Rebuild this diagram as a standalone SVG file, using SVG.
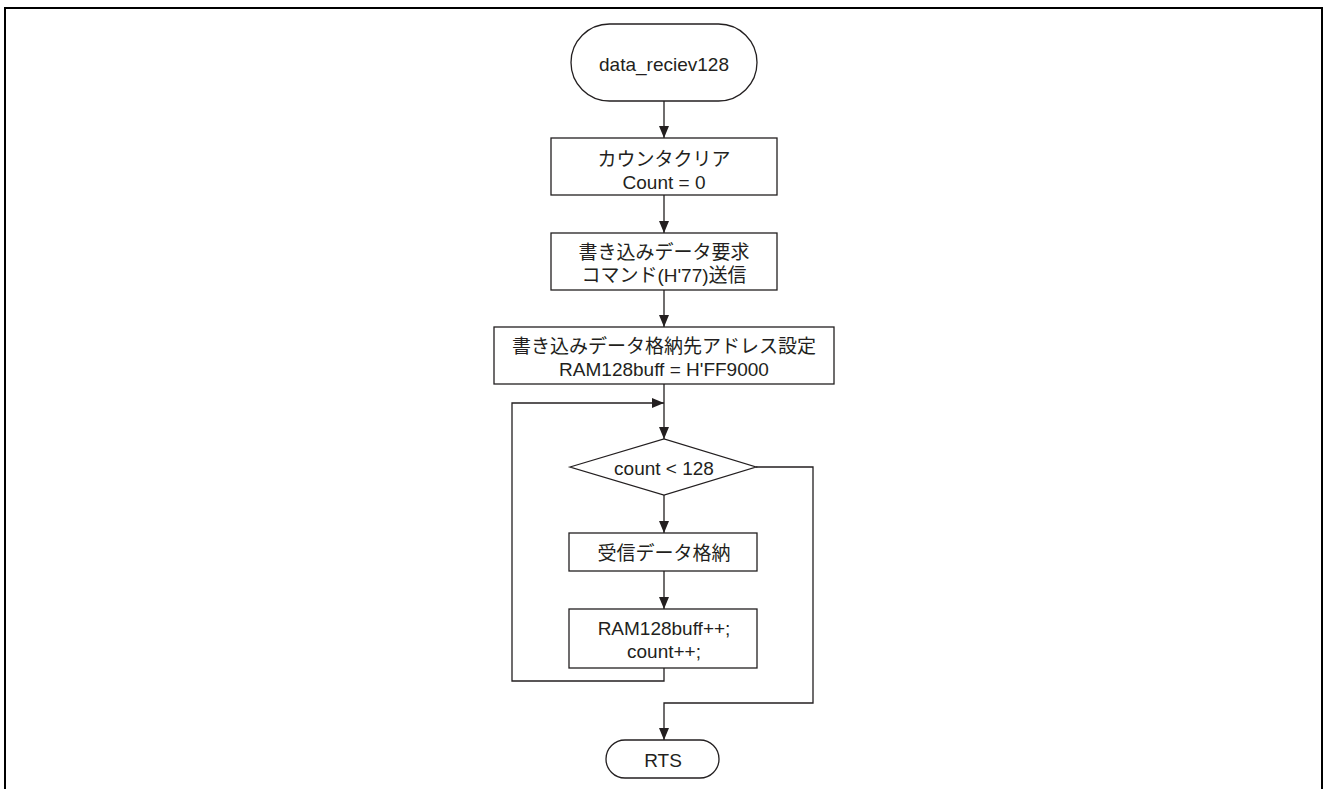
<svg xmlns="http://www.w3.org/2000/svg" width="1324" height="789" viewBox="0 0 1324 789">
<defs>
<marker id="arr" viewBox="0 0 12 10" refX="12" refY="5" markerWidth="12" markerHeight="10" markerUnits="userSpaceOnUse" orient="auto">
<path d="M0,0 L12,5 L0,10 Z" fill="#231f20"/>
</marker>
<style>
.s{fill:#fff;stroke:#231f20;stroke-width:1.3}
.c{fill:none;stroke:#231f20;stroke-width:1.3}
text{font-family:"Liberation Sans","Noto Sans CJK JP",sans-serif;font-size:19px;fill:#231f20;text-anchor:middle}
</style>
</defs>
<rect width="1324" height="789" fill="#fff"/>
<path d="M5,789 V8 H1322 V789" fill="none" stroke="#000" stroke-width="2"/>
<g id="connectors">
<path class="c" d="M664,101 V138" marker-end="url(#arr)"/>
<path class="c" d="M664,195 V233" marker-end="url(#arr)"/>
<path class="c" d="M664,290 V327" marker-end="url(#arr)"/>
<path class="c" d="M664,384 V439" marker-end="url(#arr)"/>
<path class="c" d="M664,495 V533" marker-end="url(#arr)"/>
<path class="c" d="M664,571 V609" marker-end="url(#arr)"/>
<path class="c" d="M664,668 V681 H512 V403 H664" marker-end="url(#arr)"/>
<path class="c" d="M756,467 H813 V703 H664 V740" marker-end="url(#arr)"/>
</g>
<g id="start">
<rect class="s" x="571" y="24" width="186" height="77" rx="38.5"/>
<text x="664" y="71">data_reciev128</text>
</g>
<g id="clear">
<rect class="s" x="551" y="138" width="226" height="57"/>
<text x="664" y="166">カウンタクリア</text>
<text x="664" y="189">Count = 0</text>
</g>
<g id="request">
<rect class="s" x="551" y="233" width="226" height="57"/>
<text x="664" y="259">書き込みデータ要求</text>
<text x="664" y="282">コマンド(H'77)送信</text>
</g>
<g id="address">
<rect class="s" x="494" y="327" width="340" height="57"/>
<text x="664" y="353">書き込みデータ格納先アドレス設定</text>
<text x="664" y="376">RAM128buff = H'FF9000</text>
</g>
<g id="decision">
<path class="s" d="M570,467 L664,439 L756,467 L664,495 Z"/>
<text x="664" y="475">count &lt; 128</text>
</g>
<g id="store">
<rect class="s" x="569" y="533" width="188" height="38"/>
<text x="664" y="560">受信データ格納</text>
</g>
<g id="increment">
<rect class="s" x="569" y="609" width="188" height="59"/>
<text x="664" y="635">RAM128buff++;</text>
<text x="664" y="658">count++;</text>
</g>
<g id="rts">
<rect class="s" x="606" y="740" width="113" height="38" rx="19"/>
<text x="663" y="767">RTS</text>
</g>
</svg>
